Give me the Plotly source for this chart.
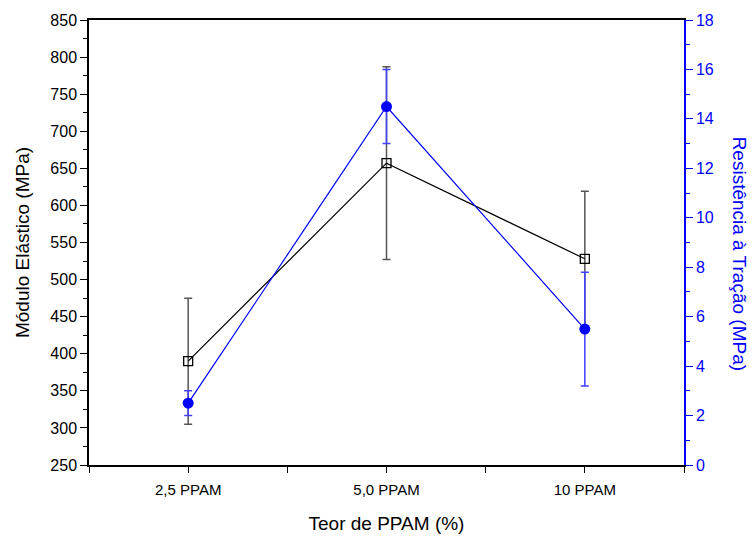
import plotly.graph_objects as go

categories = ["2,5 PPAM", "5,0 PPAM", "10 PPAM"]
modulo = [390, 657, 528]
modulo_err = [85, 130, 91]
resistencia = [2.5, 14.5, 5.5]
resistencia_err = [0.5, 1.5, 2.3]

xpos = list(range(1, len(categories) + 1))
font = "Liberation Sans, Arial, sans-serif"

fig = go.Figure()
fig.add_trace(go.Scatter(
    x=xpos, y=modulo, mode="lines+markers", name="Módulo",
    line=dict(color="black", width=1.2),
    marker=dict(symbol="square-open", size=9, color="black", line=dict(width=1.3)),
    error_y=dict(type="data", array=modulo_err, color="#555555", thickness=1.5, width=4),
    yaxis="y",
))
fig.add_trace(go.Scatter(
    x=xpos, y=resistencia, mode="lines+markers", name="Resistência",
    line=dict(color="#0000ff", width=1.2),
    marker=dict(symbol="circle", size=11, color="#0000ff"),
    error_y=dict(type="data", array=resistencia_err, color="#4040ff", thickness=1.5, width=4),
    yaxis="y2",
))

tv = [0.5 + 0.5 * i for i in range(7)]
tt = ["" if abs(v - round(v)) > 1e-9 else categories[int(round(v)) - 1] if 1 <= round(v) <= 3 else "" for v in tv]

fig.update_layout(
    width=752, height=536,
    margin=dict(l=89, r=68, t=20, b=71),
    plot_bgcolor="white", paper_bgcolor="white",
    showlegend=False,
    font=dict(family=font, size=15, color="black"),
    xaxis=dict(
        range=[0.5, 3.5], tickvals=tv, ticktext=tt, automargin=False,
        ticks="outside", ticklen=6, tickwidth=1.2, tickcolor="black",
        showline=True, linecolor="black", linewidth=1.5, mirror=True,
        showgrid=False, zeroline=False,
        tickfont=dict(size=15), ticklabelstandoff=4,
        title=dict(text="Teor de PPAM (%)", font=dict(size=19), standoff=20),
    ),
    yaxis=dict(
        range=[250, 850], dtick=50, tick0=250, automargin=False,
        ticks="outside", ticklen=7, tickwidth=1.2, tickcolor="black",
        minor=dict(ticks="outside", ticklen=4, dtick=25, tickcolor="black", tickwidth=1.2),
        showline=True, linecolor="black", linewidth=1.5,
        showgrid=False, zeroline=False,
        tickfont=dict(size=16),
        title=dict(text="Módulo Elástico (MPa)", font=dict(size=19), standoff=16),
    ),
    yaxis2=dict(
        range=[0, 18], dtick=2, tick0=0, overlaying="y", side="right", automargin=False,
        ticks="outside", ticklen=7, tickwidth=1.2, tickcolor="#0000ff",
        minor=dict(ticks="outside", ticklen=4, dtick=1, tickcolor="#0000ff", tickwidth=1.2),
        showline=True, linecolor="#0000ff", linewidth=1.5,
        showgrid=False, zeroline=False,
        tickfont=dict(size=16, color="#0000ff"),
    ),
    annotations=[dict(
        text="Resistência à Tração (MPa)", textangle=90,
        xref="paper", yref="paper", x=1, y=0.475, xanchor="center", yanchor="middle",
        xshift=55, showarrow=False, font=dict(size=19, color="#0000ff", family=font),
    )],
)

fig.write_html("out.html")
